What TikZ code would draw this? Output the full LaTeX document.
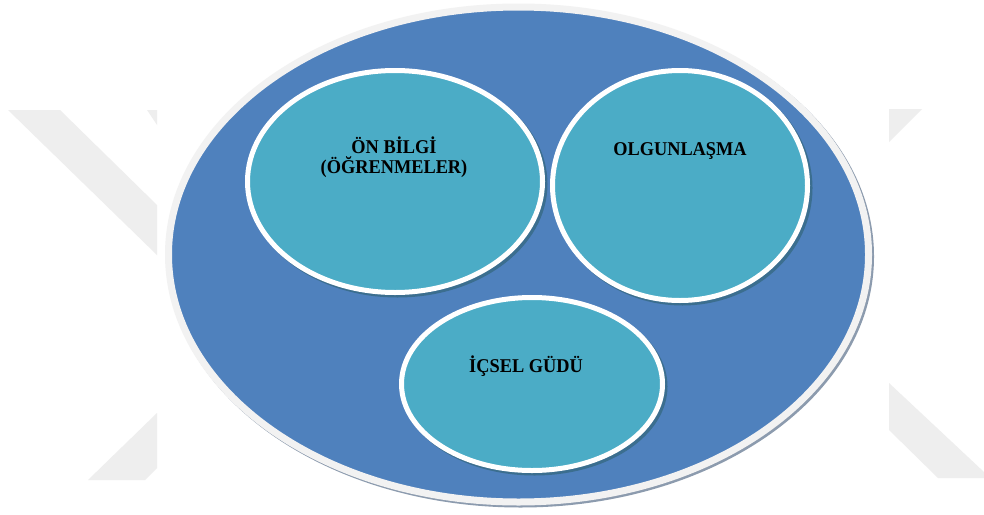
\documentclass[tikz,border=0pt]{standalone}
\usepackage{fontspec}
\setmainfont{Liberation Serif}
\newfontfamily\lblfont[FakeStretch=0.94]{Liberation Serif}
\usetikzlibrary{shapes.geometric}
\definecolor{outerblue}{HTML}{4F81BD}
\definecolor{innerteal}{HTML}{4BACC6}
\definecolor{rimgray}{HTML}{F2F2F2}
\definecolor{wmgray}{HTML}{EEEEEE}
\definecolor{outershade}{HTML}{8C9BAE}
\definecolor{innershade}{HTML}{3B6E8F}
\begin{document}
\begin{tikzpicture}[x=1pt,y=-1pt,
  bigoval/.style={ellipse, draw=rimgray, line width=7pt, fill=outerblue, inner sep=0pt, outer sep=0pt},
  smalloval/.style={ellipse, draw=white, line width=5pt, fill=innerteal, inner sep=0pt, outer sep=0pt},
  ovalshadow/.style={ellipse, inner sep=0pt, outer sep=0pt},
  ovaltext/.style={font=\lblfont\bfseries\fontsize{19.5}{20}\selectfont, inner sep=0pt, anchor=base, align=center, text=black}
]
\useasboundingbox (0,0) rectangle (984,514);
\fill[white] (0,0) rectangle (984,514);
% watermark
\fill[wmgray] (8,110) -- (60,110) -- (157,205) -- (157,255) -- cycle;
\fill[wmgray] (147,110) -- (157,110) -- (157,125) -- cycle;
\fill[wmgray] (88,480) -- (157,413) -- (157,468) -- (145,480) -- cycle;
\fill[wmgray] (889,109) -- (922,109) -- (889,142) -- cycle;
\fill[wmgray] (889,383) -- (984,472) -- (984,478) -- (938,478) -- (889,430) -- cycle;
% outer oval
\node[ovalshadow, fill=outershade, minimum width=707pt, minimum height=502pt] (outersh) at (520.5,256.5) {};
\node[bigoval, minimum width=700pt, minimum height=495pt] (outer) at (518.5,254.5) {};
% inner ovals
\node[ovalshadow, fill=innershade, minimum width=300pt, minimum height=227pt] (onsh) at (397.5,184) {};
\node[smalloval, minimum width=295pt, minimum height=222pt] (onbilgi) at (395,181.5) {};
\node[ovalshadow, fill=innershade, minimum width=260pt, minimum height=235pt] (olsh) at (682.5,188) {};
\node[smalloval, minimum width=255pt, minimum height=230pt] (olgun) at (680,185.5) {};
\node[ovalshadow, fill=innershade, minimum width=266pt, minimum height=178pt] (icsh) at (534.5,386.5) {};
\node[smalloval, minimum width=261pt, minimum height=173pt] (icsel) at (532,384) {};
% texts
\node[ovaltext] (t1) at (394,173) {ÖN BİLGİ\\(ÖĞRENMELER)};
\node[ovaltext] (t2) at (680,155) {OLGUNLAŞMA};
\node[ovaltext] (t3) at (526,372) {İÇSEL GÜDÜ};
\end{tikzpicture}
\end{document}
